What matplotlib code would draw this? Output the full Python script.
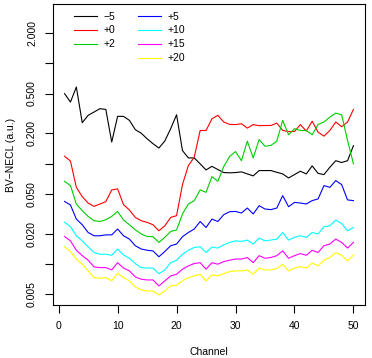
import matplotlib
matplotlib.use("Agg")
import matplotlib.pyplot as plt
from matplotlib.lines import Line2D

plt.rcParams['font.family'] = ['Liberation Sans', 'DejaVu Sans']

channels = list(range(1, 51))

v_m5 = [0.499, 0.411, 0.58, 0.256, 0.303, 0.327, 0.353, 0.347, 0.164, 0.296,
        0.296, 0.27, 0.218, 0.201, 0.177, 0.158, 0.143, 0.168, 0.223, 0.307,
        0.135, 0.114, 0.114, 0.0995, 0.0866, 0.094, 0.0873, 0.0815, 0.081, 0.0815,
        0.0828, 0.079, 0.0755, 0.0853, 0.0853, 0.0853, 0.082, 0.079, 0.072, 0.0778,
        0.084, 0.079, 0.095, 0.080, 0.0778, 0.092, 0.107, 0.1026, 0.107, 0.151]
v_p0 = [0.1186, 0.106, 0.058, 0.0469, 0.0405, 0.0375, 0.0396, 0.0418, 0.0547, 0.056,
        0.039, 0.0345, 0.0291, 0.027, 0.026, 0.0246, 0.0214, 0.024, 0.0291, 0.0303,
        0.0618, 0.0957, 0.116, 0.214, 0.214, 0.28, 0.303, 0.26, 0.246, 0.245,
        0.25, 0.226, 0.245, 0.239, 0.24, 0.24, 0.2535, 0.214, 0.209, 0.209,
        0.245, 0.211, 0.265, 0.206, 0.188, 0.214, 0.26, 0.233, 0.26, 0.347]
v_p2 = [0.0667, 0.0604, 0.0396, 0.034, 0.0298, 0.027, 0.0265, 0.0276, 0.0298, 0.0334,
        0.0274, 0.0246, 0.0219, 0.0199, 0.0188, 0.0187, 0.0164, 0.0184, 0.0211, 0.0218,
        0.0315, 0.0396, 0.0428, 0.0547, 0.0518, 0.0743, 0.0667, 0.0935, 0.118, 0.132,
        0.107, 0.1675, 0.114, 0.174, 0.149, 0.152, 0.1675, 0.27, 0.194, 0.223,
        0.214, 0.214, 0.194, 0.246, 0.26, 0.291, 0.319, 0.307, 0.17, 0.0995]
v_p5 = [0.042, 0.0387, 0.028, 0.0246, 0.0206, 0.0191, 0.0191, 0.0195, 0.0195, 0.0223,
        0.0191, 0.0177, 0.0152, 0.0141, 0.0137, 0.0135, 0.0118, 0.0133, 0.0152, 0.0158,
        0.0187, 0.0206, 0.0223, 0.0265, 0.0231, 0.028, 0.0265, 0.031, 0.0332, 0.0334,
        0.0322, 0.0361, 0.0315, 0.0381, 0.0353, 0.0348, 0.0361, 0.048, 0.0372, 0.0411,
        0.0405, 0.0396, 0.0428, 0.0445, 0.0604, 0.058, 0.0678, 0.0618, 0.0435, 0.0428]
v_p10 = [0.026, 0.0235, 0.0191, 0.017, 0.0148, 0.013, 0.0125, 0.0125, 0.0122, 0.0141,
         0.0123, 0.0114, 0.0101, 0.0092, 0.0091, 0.0091, 0.0080, 0.0087, 0.0103, 0.0109,
         0.0125, 0.0137, 0.0146, 0.0148, 0.013, 0.0148, 0.0144, 0.0155, 0.0164, 0.017,
         0.0168, 0.0173, 0.0158, 0.0181, 0.017, 0.0173, 0.0177, 0.0206, 0.0173, 0.0184,
         0.0191, 0.0184, 0.0206, 0.0199, 0.0235, 0.024, 0.0274, 0.0253, 0.0214, 0.0231]
v_p15 = [0.0188, 0.017, 0.0137, 0.0121, 0.0109, 0.00935, 0.0092, 0.0092, 0.00873, 0.0103,
         0.0091, 0.00853, 0.00743, 0.00705, 0.00693, 0.00693, 0.00604, 0.00678, 0.0076, 0.0079,
         0.00887, 0.00957, 0.0101, 0.0103, 0.00887, 0.0103, 0.00995, 0.01056, 0.0109, 0.0112,
         0.0112, 0.0116, 0.0103, 0.0121, 0.0114, 0.0116, 0.0121, 0.0135, 0.0114, 0.0121,
         0.0127, 0.0122, 0.0137, 0.013, 0.0152, 0.0158, 0.0177, 0.0164, 0.0144, 0.0164]
v_p20 = [0.0148, 0.0133, 0.0112, 0.00995, 0.00853, 0.00731, 0.00721, 0.00731, 0.00678, 0.00809,
         0.00731, 0.00678, 0.0059, 0.00551, 0.00538, 0.00538, 0.00491, 0.00538, 0.00604, 0.00614,
         0.00678, 0.00731, 0.0076, 0.0079, 0.00678, 0.00778, 0.0076, 0.00801, 0.0084, 0.00853,
         0.00853, 0.00873, 0.0079, 0.0091, 0.0087, 0.00873, 0.009, 0.00995, 0.00853, 0.0091,
         0.00942, 0.0091, 0.0102, 0.00957, 0.0109, 0.0116, 0.013, 0.0122, 0.0107, 0.0123]

series = [v_m5, v_p0, v_p2, v_p5, v_p10, v_p15, v_p20]
labels = ['\u22125', '+0', '+2', '+5', '+10', '+15', '+20']
colors = ['black', '#FF0000', '#00CD00', '#0000FF', '#00FFFF', '#FF00FF', '#FFFF00']

xticks = [0, 10, 20, 30, 40, 50]
yticks = [0.005, 0.01, 0.02, 0.05, 0.1, 0.2, 0.5, 1.0, 2.0]
ytick_labels = ['0.005', '', '0.020', '0.050', '', '0.200', '0.500', '', '2.000']

fig = plt.figure(figsize=(3.72, 3.58), dpi=100)
ax = fig.add_axes([53/372, 1 - 305/358, (365-53)/372, (305-4)/358])

handles = []
for vals, lab, col in zip(series, labels, colors):
    h, = ax.plot(channels, vals, color=col, lw=0.8, label=lab)
    handles.append(h)

ax.set_yscale('log')
ax.set_xlim(-0.96, 51.96)
ax.set_ylim(0.0039, 3.9)
ax.set_xticks(xticks)
ax.set_xticklabels([str(t) for t in xticks])
ax.set_yticks(yticks)
ax.set_yticklabels(ytick_labels)
ax.yaxis.set_minor_locator(matplotlib.ticker.NullLocator())
ax.tick_params(axis='both', direction='out', length=5.5, width=0.8, labelsize=7.5, pad=6)
ax.tick_params(axis='y', labelrotation=90)
for t in ax.get_yticklabels():
    t.set_va('center')
for s in ax.spines.values():
    s.set_linewidth(0.8)

ax.set_xlabel('Channel', fontsize=7.5, labelpad=11.5)
ax.set_ylabel('BV\u2212NECL (a.u.)', fontsize=7.5, labelpad=8)

# column 1 has three entries in the original, pad with a blank one
blank = Line2D([], [], color='none')
leg_handles = handles[:3] + [blank] + handles[3:]
leg_labels = labels[:3] + [''] + labels[3:]
ax.legend(leg_handles, leg_labels, ncol=2, loc='upper left', frameon=False,
          fontsize=7.5, handlelength=2.2, handletextpad=0.65, columnspacing=2.15,
          labelspacing=0.38, borderpad=0, borderaxespad=0,
          bbox_to_anchor=(0.067, 0.975))

fig.savefig('out.png', dpi=100)
